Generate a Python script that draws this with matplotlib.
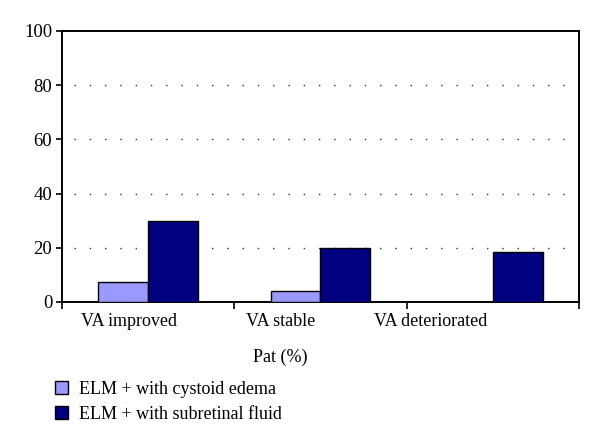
import matplotlib
matplotlib.use("Agg")
import matplotlib.pyplot as plt
import numpy as np

categories = ["VA improved", "VA stable", "VA deteriorated"]
cystoid = [7.5, 4.2, 0]
subretinal = [30, 20, 18.3]
series_names = ["ELM + with cystoid edema", "ELM + with subretinal fluid"]

LIGHT = "#9999ff"
DARK = "#000080"

plt.rcParams['font.family'] = ['Liberation Serif', 'DejaVu Serif']

fig = plt.figure(figsize=(6.0, 4.46), dpi=100)
ax = fig.add_axes([0.1033, 0.3229, 0.8617, 0.6076])

x = np.arange(len(categories))
w = 0.29
b1 = ax.bar(x - w / 2, cystoid, w, color=LIGHT, edgecolor="black", linewidth=1.0, zorder=3)
b2 = ax.bar(x + w / 2, subretinal, w, color=DARK, edgecolor="black", linewidth=1.0, zorder=3)
# no bar drawn for a zero value
for r, v in zip(b1, cystoid):
    if v == 0:
        r.set_visible(False)

ax.set_xlim(-0.5, 2.5)
ax.set_ylim(0, 100)
ax.set_yticks([0, 20, 40, 60, 80, 100])
ax.tick_params(axis='y', labelsize=13.5, length=4, width=1.2, pad=3)
for yv in [20, 40, 60, 80]:
    ax.plot([-0.43, 2.43], [yv, yv], color="#333333", linestyle=(0, (1, 10)),
            linewidth=1.0, zorder=1)

# tick marks at category boundaries, labels as placed in the picture
ax.set_xticks([-0.5, 0.5, 1.5, 2.5], minor=True)
ax.tick_params(axis='x', which='minor', length=5, width=1.2, direction='out')
ax.set_xticks([-0.11, 0.767, 1.64], categories)
ax.tick_params(axis='x', which='major', length=0, labelsize=13, pad=8)

for s in ax.spines.values():
    s.set_linewidth(1.4)

fig.text(0.467, 0.198, "Pat (%)", ha="center", va="center", fontsize=13)

fig.legend([b1, b2], series_names, loc="upper left", bbox_to_anchor=(0.065, 0.183),
           frameon=False, fontsize=13, handlelength=0.7, handleheight=0.7,
           handletextpad=0.6, labelspacing=0.45)

fig.savefig("out.png", dpi=100)
